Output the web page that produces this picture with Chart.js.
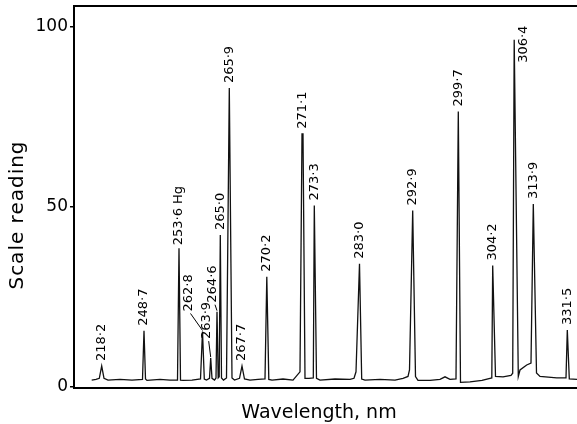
<!DOCTYPE html>
<html>
<head>
<meta charset="utf-8">
<script src="https://cdn.jsdelivr.net/npm/chart.js@4.4.1/dist/chart.umd.min.js"></script>
<style>
    html, body { margin: 0; padding: 0; background: #fff; }
    #wrap { width: 577px; height: 424px; position: relative; }
</style>
</head>
<body>
<div id="wrap"><canvas id="spectrumChart"></canvas></div>
<script>
// Recorder trace: x = distance along the chart, y = scale reading
const scanPos = [17.7, 22, 25.3, 27.7, 30, 34, 46, 58, 68.5, 70, 71.5, 73, 86, 96, 103.5, 105, 106.5, 109,
    118, 126.5, 128.5, 130.3, 132.5, 135.5, 136.7, 138, 140.5, 142, 143, 144.2, 145.2, 146.3, 147.5, 149.5,
    152.5, 155.3, 158, 160.5, 165.5, 168, 170.5, 176, 184, 191, 192.8, 194.8, 198, 209, 219, 226, 228, 229,
    231, 235, 239.3, 240.3, 242.5, 246, 261, 276, 280, 282, 285.5, 287.7, 291, 306, 321, 329, 334, 335.5,
    338.7, 341.5, 344, 356, 366, 371, 376, 382, 384.3, 386.5, 396, 408, 416, 417.8, 418.7, 421.5, 429, 437,
    438.7, 440.2, 444.3, 446, 452.7, 457, 459.3, 462.5, 466, 482.7, 492, 493.3, 495.3, 503];
const reading = [1.9, 2.1, 2.4, 5.8, 2.4, 1.9, 2.1, 1.9, 2.1, 15.6, 2.2, 1.8, 2.1, 1.9, 1.9, 38.5, 1.9, 1.8,
    1.9, 2.2, 15.4, 2.2, 1.9, 2.4, 8.0, 2.4, 1.9, 2.5, 20.9, 2.5, 2.8, 42.2, 2.5, 1.9,
    2.5, 83.0, 2.5, 1.9, 2.4, 5.8, 2.2, 1.9, 2.1, 2.2, 30.6, 2.1, 1.9, 2.2, 1.9, 4.2, 70.3, 70.3,
    2.4, 2.4, 2.5, 50.4, 2.4, 1.9, 2.2, 2.1, 2.4, 4.2, 34.2, 2.2, 1.9, 2.1, 1.9, 2.4, 2.9, 4.7,
    49.0, 2.9, 1.8, 1.8, 2.1, 2.8, 2.1, 2.2, 76.5, 1.25, 1.4, 1.8, 2.4, 2.5, 33.7, 2.9, 2.8, 3.2,
    3.8, 96.4, 2.9, 4.7, 6.1, 6.6, 50.8, 3.9, 2.9, 2.5, 2.5, 15.8, 2.2, 2.1];

// Peak labels (wavelength, nm) and the top of each peak
const peakNames = ['218·2', '248·7', '253·6 Hg', '262·8', '263·9', '264·6', '265·0', '265·9', '267·7', '270·2',
    '271·1', '273·3', '283·0', '292·9', '299·7', '304·2', '306·4', '313·9', '331·5'];
const peakPos = [27.7, 70, 105, 128.5, 136.7, 143, 146.3, 155.3, 168, 192.8,
    228.5, 240.3, 285.5, 338.7, 384.3, 418.7, 440.2, 459.3, 493.3];
const peakTop = [5.8, 15.6, 38.5, 15.4, 8.0, 20.9, 42.2, 83.0, 5.8, 30.6,
    70.3, 50.4, 34.2, 49.0, 76.5, 33.7, 96.4, 50.8, 15.8];

const yTicks = [0, 50, 100];

const FONT = '"DejaVu Sans", sans-serif';

// labels that sit off their peak in the original (pixels)
const labelShift = {
    '253·6 Hg': {dx: 0, dy: -3},
    '262·8': {dx: -14, dy: -20, leader: true},
    '263·9': {dx: -4, dy: -19, leader: true},
    '264·6': {dx: -4, dy: -9, leader: true},
    '306·4': {dx: 9, dy: 23}
};

const decorPlugin = {
    id: 'decor',
    afterDraw(chart) {
        const ctx = chart.ctx;
        const area = chart.chartArea;
        const xs = chart.scales.x;
        const ys = chart.scales.y;

        // top frame line
        ctx.save();
        ctx.strokeStyle = '#000';
        ctx.lineWidth = 2;
        ctx.beginPath();
        ctx.moveTo(area.left, area.top);
        ctx.lineTo(area.right, area.top);
        ctx.stroke();

        // peak labels
        ctx.fillStyle = '#000';
        ctx.font = '13px ' + FONT;
        ctx.lineWidth = 1;
        peakNames.forEach((name, i) => {
            const px = xs.getPixelForValue(peakPos[i]);
            const py = ys.getPixelForValue(peakTop[i]);
            const s = labelShift[name] || {dx: 0, dy: -5};
            const tx = px + s.dx;
            const ty = py + s.dy;
            if (s.leader) {
                ctx.beginPath();
                ctx.moveTo(tx + 2, ty + 2);
                ctx.lineTo(px, py - 1);
                ctx.stroke();
            }
            ctx.save();
            ctx.translate(tx, ty);
            ctx.rotate(-Math.PI / 2);
            ctx.textAlign = 'left';
            ctx.textBaseline = 'middle';
            ctx.fillText(name, 0, 0);
            ctx.restore();
        });

        // axis titles
        ctx.font = '20px ' + FONT;
        ctx.letterSpacing = '1px';
        ctx.save();
        ctx.translate(18, 215);
        ctx.rotate(-Math.PI / 2);
        ctx.textAlign = 'center';
        ctx.textBaseline = 'middle';
        ctx.fillText('Scale reading', 0, 0);
        ctx.restore();

        ctx.font = '19px ' + FONT;
        ctx.letterSpacing = '0px';
        ctx.textAlign = 'center';
        ctx.textBaseline = 'alphabetic';
        ctx.fillText('Wavelength, nm', 319, 418);
        ctx.restore();
    }
};

const ctx = document.getElementById('spectrumChart').getContext('2d');
const spectrumChart = new Chart(ctx, {
    type: 'line',
    data: {
        datasets: [{
            data: scanPos.map((x, i) => ({x: x, y: reading[i]})),
            borderColor: '#111',
            borderWidth: 1.3,
            pointRadius: 0,
            tension: 0,
            fill: false
        }]
    },
    options: {
        responsive: true,
        maintainAspectRatio: false,
        animation: false,
        layout: {padding: {top: 6, right: 0, bottom: 0, left: 0}},
        plugins: {
            legend: {display: false},
            tooltip: {enabled: false}
        },
        scales: {
            x: {
                type: 'linear',
                min: 0,
                max: 503,
                grid: {display: false},
                ticks: {display: false},
                border: {display: true, color: '#000', width: 2},
                afterFit: axis => {
                    axis.height = 36;
                    axis.paddingLeft = 0;
                    axis.paddingRight = 0;
                }
            },
            y: {
                type: 'linear',
                min: -0.3,
                max: 105.8,
                afterBuildTicks: axis => { axis.ticks = yTicks.map(v => ({value: v})); },
                grid: {drawOnChartArea: false, drawTicks: true, tickLength: 4, color: '#000', lineWidth: 1.5},
                border: {display: true, color: '#000', width: 2},
                ticks: {
                    color: '#000',
                    padding: 2,
                    font: {family: FONT, size: 17},
                    callback: v => String(v)
                },
                afterFit: axis => {
                    axis.width = 74;
                    axis.paddingTop = 0;
                    axis.paddingBottom = 0;
                }
            }
        }
    },
    plugins: [decorPlugin]
});
</script>
</body>
</html>
